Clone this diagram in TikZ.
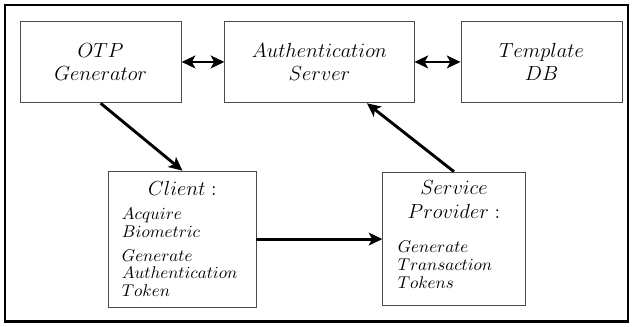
\documentclass[tikz,border=0pt]{standalone}
\usepackage{tikz}
\usetikzlibrary{arrows.meta, positioning, calc}
\usepackage{amsmath}

% left-aligned task list inside a block
\newcommand{\tasklist}[2]{\parbox[t]{#1}{\normalsize\raggedright\baselineskip=10.5pt #2}}

\begin{document}
\begin{tikzpicture}[font=\large, >={Stealth[length=8pt, width=7.5pt, inset=2pt]},
    blockbox/.style={draw=black!70, line width=0.5pt, rectangle, inner sep=0pt, align=center},
    flowarrow/.style={line width=1.7pt, black}]
  % ---- Canvas and outer frame ----
  \useasboundingbox (0,0) rectangle (13.08,6.74);
  \draw[line width=1.5pt] (0.10,0.10) rectangle (12.98,6.64);

  % ---- Top row ----
  \node[blockbox, minimum width=3.33cm, minimum height=1.69cm] (otp) at (2.08,5.46)
    {$OTP$\\$Generator$};
  \node[blockbox, minimum width=3.91cm, minimum height=1.69cm] (auth) at (6.60,5.46)
    {$Authentication$\\$Server$};
  \node[blockbox, minimum width=3.33cm, minimum height=1.69cm] (tdb) at (11.19,5.46)
    {$Template$\\$DB$};

  % ---- Bottom row ----
  \node[blockbox, minimum width=3.04cm, minimum height=2.81cm] (client) at (3.77,1.80)
    {$Client:$\\\tasklist{2.50cm}{$Acquire$\\$Biometric$\\[3.5pt]$Generate$\\$Authentication$\\$Token$}};
  \node[blockbox, minimum width=2.94cm, minimum height=2.75cm] (sp) at (9.38,1.81)
    {$Service$\\$Provider:$\\[6pt]\tasklist{2.32cm}{$Generate$\\$Transaction$\\$Tokens$}\\[4pt]};

  % ---- Connectors ----
  \draw[<->, flowarrow] (otp) -- (auth);
  \draw[<->, flowarrow] (auth) -- (tdb);
  \draw[->, flowarrow] (otp.south) -- (client.north);
  \draw[->, flowarrow] (client.east) -- (client.east -| sp.west);
  \draw[->, flowarrow] (sp.north) -- ($(auth.south)!0.5!(auth.south east)$);
\end{tikzpicture}
\end{document}
